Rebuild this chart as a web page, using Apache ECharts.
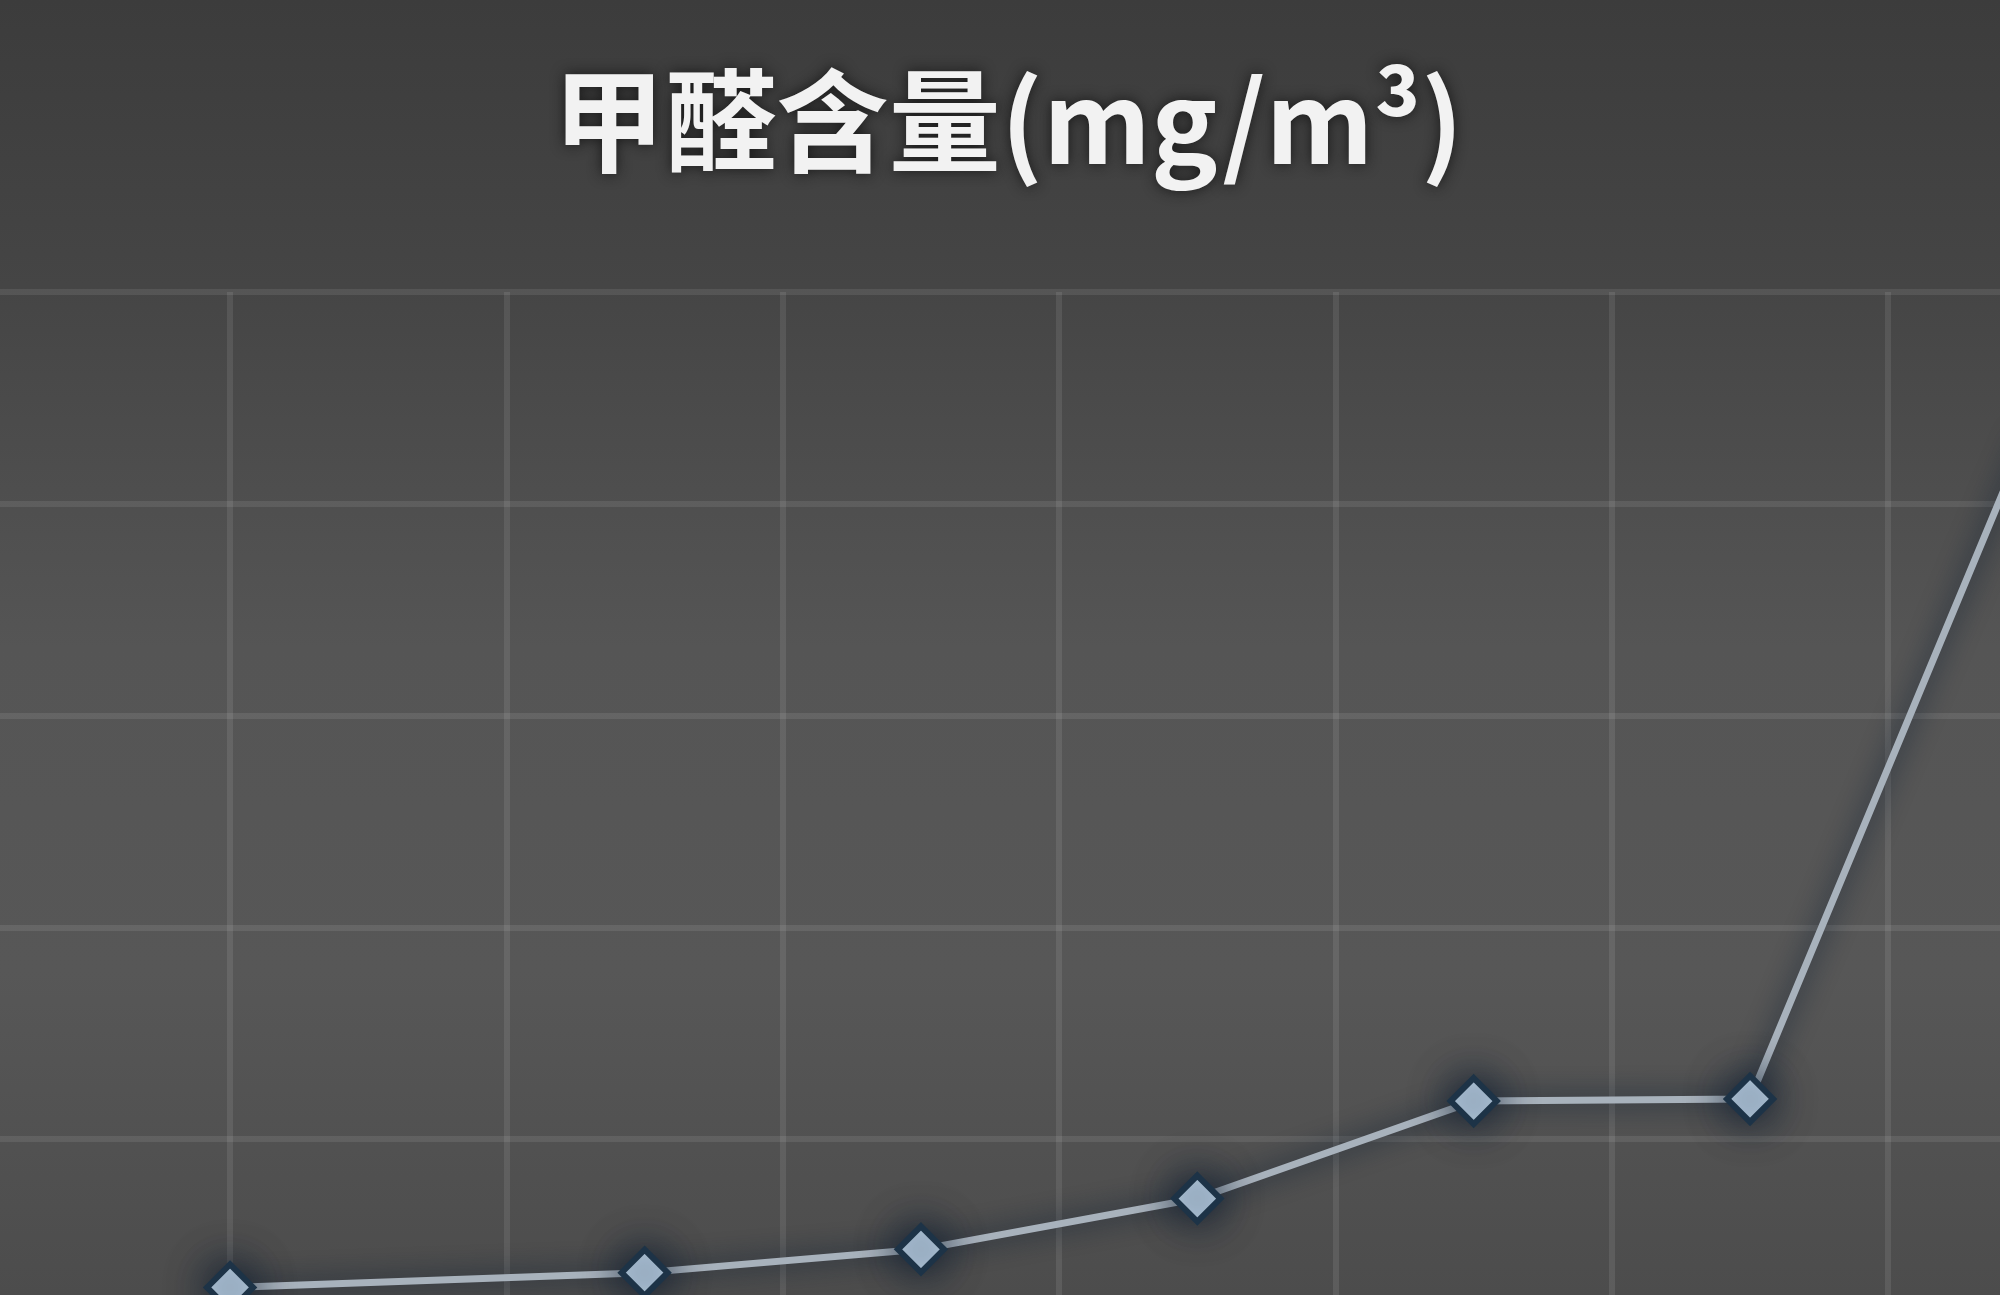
<!DOCTYPE html>
<html>
<head>
<meta charset="utf-8">
<script src="https://cdn.jsdelivr.net/npm/echarts@6/dist/echarts.min.js"></script>
<style>
html,body{margin:0;padding:0;width:2000px;height:1295px;overflow:hidden;background:#4a4a4a;}
#chart{width:2000px;height:1295px;}
</style>
</head>
<body>
<div id="chart"></div>
<script>
// Data
var titleText = '甲醛含量(mg/m³)';
var xValues = [0, 1.5, 2.5, 3.5, 4.5, 5.5, 6.5];
var yValues = [0.030, 0.037, 0.048, 0.072, 0.118, 0.119, 0.432];

var points = xValues.map(function (x, i) { return [x, yValues[i]]; });

var chart = echarts.init(document.getElementById('chart'));
chart.setOption({
  animation: false,
  backgroundColor: {
    type: 'linear', x: 0, y: 0, x2: 0, y2: 1,
    colorStops: [
      { offset: 0, color: '#3c3c3c' },
      { offset: 0.22, color: '#454545' },
      { offset: 0.5, color: '#555555' },
      { offset: 0.75, color: '#575757' },
      { offset: 1, color: '#4c4c4c' }
    ]
  },
  title: {
    text: titleText,
    left: 1003,
    textAlign: 'center',
    top: 57,
    textStyle: {
      color: '#f2f2f2',
      fontSize: 112,
      lineHeight: 118,
      fontWeight: 'bold',
      fontFamily: '"Noto Sans CJK SC", sans-serif',
      textShadowColor: 'rgba(20,20,20,0.9)',
      textShadowBlur: 14
    }
  },
  grid: {
    left: -46.3,
    right: -164.6,
    top: 292,
    bottom: -56,
    containLabel: false,
    outerBoundsMode: 'none'
  },
  xAxis: {
    type: 'value',
    min: -1,
    max: 7,
    interval: 1,
    axisLine: { show: false },
    axisTick: { show: false },
    axisLabel: { show: false },
    splitLine: { show: true, lineStyle: { color: 'rgba(255,255,255,0.09)', width: 6 } }
  },
  yAxis: {
    type: 'value',
    min: 0,
    max: 0.5,
    interval: 0.1,
    axisLine: { show: false },
    axisTick: { show: false },
    axisLabel: { show: false },
    splitLine: { show: true, lineStyle: { color: 'rgba(255,255,255,0.09)', width: 6 } }
  },
  series: [{
    type: 'line',
    data: points,
    clip: false,
    symbol: 'diamond',
    symbolSize: 46,
    lineStyle: {
      color: '#a8b2bc',
      width: 7,
      shadowColor: 'rgba(12,28,48,0.95)',
      shadowBlur: 26
    },
    itemStyle: {
      color: '#c0d6ea',
      borderColor: '#1d3347',
      borderWidth: 6,
      shadowColor: 'rgba(10,25,45,1)',
      shadowBlur: 40
    },
    z: 5
  }]
});
</script>
</body>
</html>
